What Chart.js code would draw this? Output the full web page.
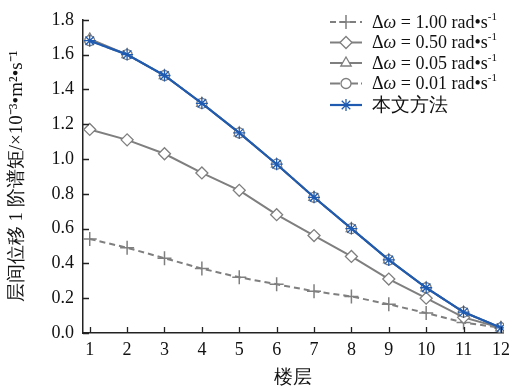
<!DOCTYPE html>
<html>
<head>
<meta charset="utf-8">
<script src="https://cdn.jsdelivr.net/npm/chart.js@4/dist/chart.umd.min.js"></script>
<style>
  html, body { margin: 0; padding: 0; background: #fff; }
  #wrap { width: 516px; height: 390px; position: relative; }
</style>
</head>
<body>
<div id="wrap"><canvas id="myChart"></canvas></div>
<script>
const floors = [1, 2, 3, 4, 5, 6, 7, 8, 9, 10, 11, 12];
const yTicks = [0, 0.2, 0.4, 0.6, 0.8, 1.0, 1.2, 1.4, 1.6, 1.8];
const dw100 = [0.54, 0.49, 0.43, 0.37, 0.32, 0.28, 0.24, 0.21, 0.165, 0.115, 0.06, 0.03];
const dw050 = [1.17, 1.11, 1.03, 0.92, 0.82, 0.68, 0.56, 0.44, 0.31, 0.20, 0.09, 0.03];
const dw005 = [1.69, 1.60, 1.48, 1.32, 1.15, 0.97, 0.78, 0.60, 0.42, 0.26, 0.12, 0.03];
const dw001 = [1.68, 1.60, 1.48, 1.32, 1.15, 0.97, 0.78, 0.60, 0.42, 0.26, 0.12, 0.03];
const ours  = [1.68, 1.60, 1.48, 1.32, 1.15, 0.97, 0.78, 0.60, 0.42, 0.26, 0.12, 0.03];
const legendValues = ['1.00', '0.50', '0.05', '0.01'];

const serif = '"Liberation Serif", "Times New Roman", serif';
const grey = '#7f7f7f';
const blue = '#1f5bb0';

const pts = arr => floors.map((f, i) => ({x: f, y: arr[i]}));

// inward tick marks on both axes
const tickPlugin = {
  id: 'inTicks',
  afterDraw(chart) {
    const c = chart.ctx, xs = chart.scales.x, ys = chart.scales.y;
    c.save();
    c.strokeStyle = '#222';
    c.lineWidth = 1.3;
    c.beginPath();
    ys.ticks.forEach((t, i) => {
      const p = Math.round(ys.getPixelForTick(i)) + 0.5;
      c.moveTo(xs.left, p); c.lineTo(xs.left + 6, p);
    });
    xs.ticks.forEach((t, i) => {
      const p = Math.round(xs.getPixelForTick(i)) + 0.5;
      c.moveTo(p, ys.bottom); c.lineTo(p, ys.bottom - 6);
    });
    c.stroke();
    c.restore();
  }
};

// legend: line sample with marker, then text
const legendPlugin = {
  id: 'lineLegend',
  afterDraw(chart) {
    const c = chart.ctx;
    const x0 = 330, x1 = 362, tx = 372;
    const rows = [22, 42.5, 63, 83.5, 105];
    chart.data.datasets.forEach((ds, i) => {
      const y = rows[i];
      c.save();
      c.strokeStyle = ds.borderColor;
      c.lineWidth = ds.borderWidth;
      c.setLineDash(ds.borderDash || []);
      c.beginPath(); c.moveTo(x0, y); c.lineTo(x1, y); c.stroke();
      c.setLineDash([]);
      c.fillStyle = ds.pointBackgroundColor;
      c.strokeStyle = ds.pointBorderColor;
      c.lineWidth = ds.pointBorderWidth;
      Chart.helpers.drawPoint(c, {pointStyle: ds.pointStyle, radius: ds.pointRadius, borderWidth: ds.pointBorderWidth, rotation: 0}, (x0 + x1) / 2, y);
      c.fillStyle = '#111';
      c.textBaseline = 'middle';
      let x = tx;
      if (i < legendValues.length) {
        const parts = [
          ['Δ', '18px ' + serif, 0],
          ['ω', 'italic 18px ' + serif, 0],
          [' = ' + legendValues[i] + ' rad•s', '18px ' + serif, 0],
          ['-1', '11px ' + serif, -6]
        ];
        parts.forEach(p => {
          c.font = p[1];
          c.fillText(p[0], x, y + 1 + p[2]);
          x += c.measureText(p[0]).width;
        });
      } else {
        c.font = '18.5px ' + serif;
        c.fillText(ds.label, x, y + 1);
      }
      c.restore();
    });
  }
};

const ctx = document.getElementById('myChart');
const myChart = new Chart(ctx, {
  type: 'line',
  data: {
    datasets: [{
      label: 'Δω = 1.00 rad·s-1',
      data: pts(dw100),
      borderColor: grey, borderWidth: 2, borderDash: [6, 4],
      pointStyle: 'cross', pointRadius: 7, pointBorderWidth: 1.5,
      pointBackgroundColor: grey, pointBorderColor: grey,
      order: 4
    }, {
      label: 'Δω = 0.50 rad·s-1',
      data: pts(dw050),
      borderColor: grey, borderWidth: 2,
      pointStyle: 'rectRot', pointRadius: 6, pointBorderWidth: 1.3,
      pointBackgroundColor: '#fff', pointBorderColor: grey,
      order: 3
    }, {
      label: 'Δω = 0.05 rad·s-1',
      data: pts(dw005),
      borderColor: grey, borderWidth: 2,
      pointStyle: 'triangle', pointRadius: 6, pointBorderWidth: 1.3,
      pointBackgroundColor: '#fff', pointBorderColor: grey,
      order: 2
    }, {
      label: 'Δω = 0.01 rad·s-1',
      data: pts(dw001),
      borderColor: grey, borderWidth: 2, borderDash: [10, 3, 2, 3],
      pointStyle: 'circle', pointRadius: 5, pointBorderWidth: 1.3,
      pointBackgroundColor: '#fff', pointBorderColor: grey,
      order: 1
    }, {
      label: '本文方法',
      data: pts(ours),
      borderColor: blue, borderWidth: 2.2,
      pointStyle: 'star', pointRadius: 6, pointBorderWidth: 1.3,
      pointBackgroundColor: blue, pointBorderColor: blue,
      order: 0
    }]
  },
  options: {
    responsive: true,
    maintainAspectRatio: false,
    animation: false,
    layout: { padding: { top: 11, right: 5, left: 0, bottom: 0 } },
    plugins: {
      legend: { display: false },
      tooltip: { enabled: false }
    },
    scales: {
      x: {
        type: 'linear',
        min: 0.82,
        max: 12.08,
        afterBuildTicks: s => { s.ticks = floors.map(v => ({value: v})); },
        afterFit: s => { s.height = 57; },
        grid: { display: true, drawOnChartArea: false, drawTicks: false },
        border: { display: true, color: '#222', width: 1.5 },
        ticks: {
          padding: 6,
          color: '#111',
          font: { family: serif, size: 18 },
          maxRotation: 0,
          autoSkip: false
        },
        title: {
          display: true,
          text: '楼层',
          color: '#111',
          font: { family: serif, size: 19 },
          padding: { top: 0, bottom: 1 }
        }
      },
      y: {
        min: 0,
        max: 1.8,
        afterBuildTicks: s => { s.ticks = yTicks.map(v => ({value: v})); },
        afterFit: s => { s.width = 83; },
        grid: { display: true, drawOnChartArea: false, drawTicks: false },
        border: { display: true, color: '#222', width: 1.5 },
        ticks: {
          padding: 9,
          color: '#111',
          font: { family: serif, size: 18 },
          callback: v => Number(v).toFixed(1)
        },
        title: {
          display: true,
          text: '层间位移 1 阶谱矩/×10⁻³•m²•s⁻¹',
          color: '#111',
          font: { family: serif, size: 19 },
          padding: { top: 6, bottom: 0 }
        }
      }
    }
  },
  plugins: [tickPlugin, legendPlugin]
});
</script>
</body>
</html>
